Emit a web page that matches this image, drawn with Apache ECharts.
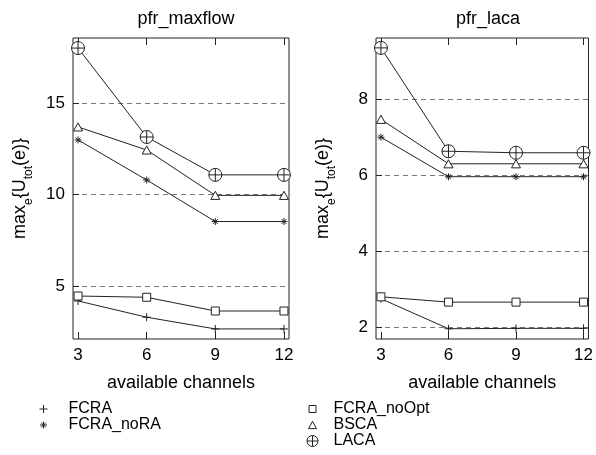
<!DOCTYPE html>
<html>
<head>
<meta charset="utf-8">
<script src="https://cdn.jsdelivr.net/npm/echarts@6/dist/echarts.min.js"></script>
<style>
  html, body { margin: 0; padding: 0; background: #fff; }
  #chart { width: 596px; height: 455px; }
</style>
</head>
<body>
<div id="chart"></div>
<script>
// Available channel counts (x axis)
const channels = [3, 6, 9, 12];
const xTicks = [3, 6, 9, 12];

// Panel titles
const panelTitles = ['pfr_maxflow', 'pfr_laca'];

// pfr_maxflow panel
const maxflowFCRA = [4.18, 3.29, 2.65, 2.65];
const maxflowFCRAnoRA = [12.98, 10.79, 8.52, 8.52];
const maxflowFCRAnoOpt = [4.45, 4.38, 3.63, 3.63];
const maxflowBSCA = [13.69, 12.43, 9.95, 9.95];
const maxflowLACA = [18.0, 13.14, 11.07, 11.07];
const maxflowYTicks = [5, 10, 15];

// pfr_laca panel
const lacaFCRA = [2.76, 1.97, 1.98, 1.98];
const lacaFCRAnoRA = [7.01, 5.97, 5.97, 5.97];
const lacaFCRAnoOpt = [2.81, 2.67, 2.67, 2.67];
const lacaBSCA = [7.48, 6.31, 6.31, 6.31];
const lacaLACA = [9.36, 6.64, 6.60, 6.60];
const lacaYTicks = [2, 4, 6, 8];

const seriesNames = ['FCRA', 'FCRA_noRA', 'FCRA_noOpt', 'BSCA', 'LACA'];

const FONT = '"Liberation Sans", Arial, Helvetica, sans-serif';
const INK = '#222';

// Point symbols (outline shapes)
const SYM_PLUS = 'path://M5,0 L5,10 M0,5 L10,5';
const SYM_STAR = 'path://M5,0 L5,10 M0,5 L10,5 M1.5,1.5 L8.5,8.5 M8.5,1.5 L1.5,8.5';
const SYM_SQUARE = 'path://M0,0 L10,0 L10,10 L0,10 Z';
const SYM_TRIANGLE = 'path://M5,0 L10,9 L0,9 Z';
const SYM_OPLUS = 'path://M0,10 A10,10 0 1,1 20,10 A10,10 0 1,1 0,10 Z M10,0 L10,20 M0,10 L20,10';

const markers = {
  FCRA: { symbol: SYM_PLUS, size: 8 },
  FCRA_noRA: { symbol: SYM_STAR, size: 7 },
  FCRA_noOpt: { symbol: SYM_SQUARE, size: 8 },
  BSCA: { symbol: SYM_TRIANGLE, size: 9 },
  LACA: { symbol: SYM_OPLUS, size: 13 }
};

const panels = [
  { values: [maxflowFCRA, maxflowFCRAnoRA, maxflowFCRAnoOpt, maxflowBSCA, maxflowLACA],
    yMin: 2.1, yMax: 18.55, yTicks: maxflowYTicks },
  { values: [lacaFCRA, lacaFCRAnoRA, lacaFCRAnoOpt, lacaBSCA, lacaLACA],
    yMin: 1.7, yMax: 9.62, yTicks: lacaYTicks }
];

const grids = [
  { left: 73, top: 38, width: 216, height: 301 },
  { left: 376, top: 38, width: 215, height: 301 }
];

const yName = '{m|max}{s|e}{m|{U}{s|tot}{m|(e)}}';

const xAxes = [];
const yAxes = [];
const series = [];

panels.forEach((p, gi) => {
  // bottom axis with labels
  xAxes.push({
    type: 'value', gridIndex: gi, min: 2.78, max: 12.22,
    position: 'bottom',
    name: 'available channels', nameLocation: 'middle', nameGap: 35,
    nameTextStyle: { fontFamily: FONT, fontSize: 18, color: '#000' },
    axisLine: { show: false },
    axisTick: { show: true, inside: true, length: 7, customValues: xTicks,
                lineStyle: { color: INK, width: 1 } },
    axisLabel: { customValues: xTicks, margin: 8, fontFamily: FONT, fontSize: 17, color: '#000' },
    splitLine: { show: false }
  });
  // mirrored top axis: ticks only
  xAxes.push({
    type: 'value', gridIndex: gi, min: 2.78, max: 12.22,
    position: 'top',
    axisLine: { show: false },
    axisTick: { show: true, inside: true, length: 7, customValues: xTicks,
                lineStyle: { color: INK, width: 1 } },
    axisLabel: { show: false },
    splitLine: { show: false }
  });
  yAxes.push({
    type: 'value', gridIndex: gi, min: p.yMin, max: p.yMax,
    name: yName, nameLocation: 'middle', nameGap: 38, nameRotate: 90,
    nameTextStyle: {
      fontFamily: FONT, fontSize: 18, color: '#000',
      rich: {
        m: { fontFamily: FONT, fontSize: 18, lineHeight: 30, color: '#000' },
        s: { fontFamily: FONT, fontSize: 12, lineHeight: 12, verticalAlign: 'bottom', color: '#000' }
      }
    },
    axisLine: { show: false },
    axisTick: { show: true, inside: true, length: 6, customValues: p.yTicks,
                lineStyle: { color: INK, width: 1 } },
    axisLabel: { customValues: p.yTicks, margin: 8, fontFamily: FONT, fontSize: 17, color: '#000' },
    splitLine: { show: true, lineStyle: { color: '#777', width: 1, type: [5, 4] } }
  });
  p.values.forEach((vals, si) => {
    const name = seriesNames[si];
    const mk = markers[name];
    series.push({
      type: 'line', name: name,
      xAxisIndex: gi * 2, yAxisIndex: gi,
      data: channels.map((c, k) => [c, vals[k]]),
      symbol: mk.symbol, symbolSize: mk.size, symbolKeepAspect: true, showSymbol: true,
      lineStyle: { color: INK, width: 1 },
      itemStyle: { color: '#fff', borderColor: INK, borderWidth: 1 },
      emphasis: { disabled: true },
      animation: false
    });
  });
});

// One legend block per entry so each keeps its own marker size
const legendSpec = [
  { name: 'FCRA', cx: 43, cy: 409, w: 8, textX: 68 },
  { name: 'FCRA_noRA', cx: 43, cy: 425, w: 7, textX: 68 },
  { name: 'FCRA_noOpt', cx: 312, cy: 409, w: 7, textX: 333 },
  { name: 'BSCA', cx: 312, cy: 425, w: 8, textX: 333 },
  { name: 'LACA', cx: 312, cy: 441, w: 11, textX: 333 }
];
const legends = legendSpec.map(l => ({
  data: [{ name: l.name, icon: markers[l.name].symbol }],
  left: l.cx - l.w / 2, top: l.cy - 8,
  orient: 'vertical', padding: 0,
  itemWidth: l.w, itemHeight: 16,
  symbolKeepAspect: true,
  selectedMode: false,
  textStyle: { fontFamily: FONT, fontSize: 16, color: '#000', lineHeight: 16,
               padding: [0, 0, 0, l.textX - (l.cx + l.w / 2) - 5] },
  itemStyle: { color: '#fff', borderColor: INK, borderWidth: 1 }
}));

const option = {
  backgroundColor: '#fff',
  animation: false,
  title: panelTitles.map((t, i) => ({
    text: t,
    left: i === 0 ? 181 : 483, top: 5, textAlign: 'center',
    textStyle: { fontFamily: FONT, fontSize: 18, fontWeight: 'normal', color: '#000' }
  })),
  legend: legends,
  grid: grids.map(g => Object.assign({ show: true, borderColor: INK, borderWidth: 1,
                                       backgroundColor: 'transparent' }, g)),
  xAxis: xAxes,
  yAxis: yAxes,
  series: series
};

const chart = echarts.init(document.getElementById('chart'), null, { renderer: 'canvas' });
chart.setOption(option);
</script>
</body>
</html>
